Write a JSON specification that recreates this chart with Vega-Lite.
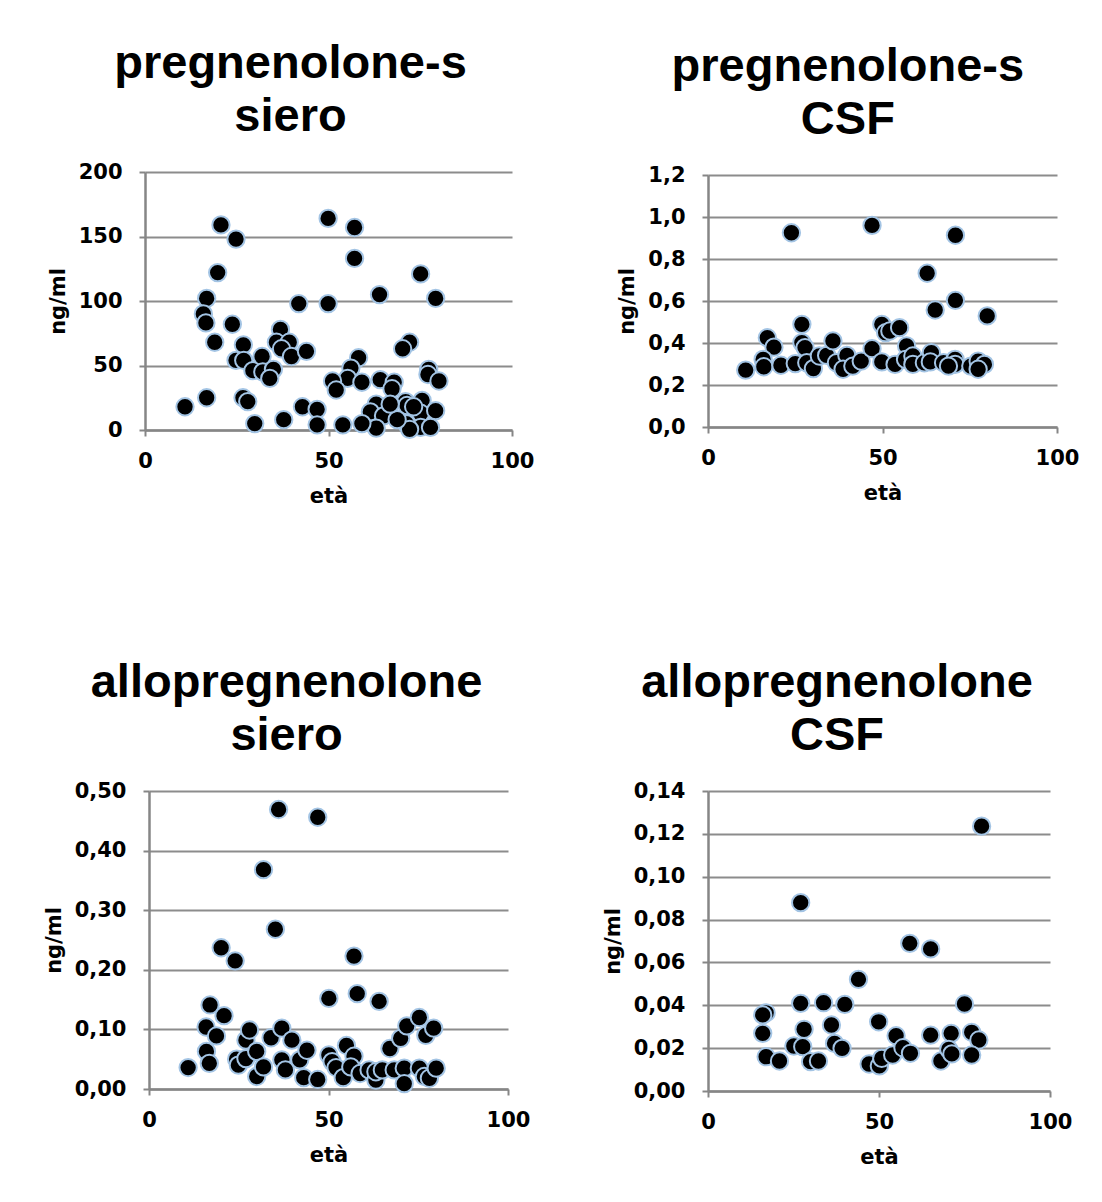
{
  "$schema": "https://vega.github.io/schema/vega-lite/v6.json",
  "autosize": {"type": "none"},
  "padding": {"left": 145, "top": 172, "right": 957, "bottom": 1030},
  "background": "white",
  "datasets": {
    "p1": [
      {"eta":10.9,"val":18},{"eta":16.8,"val":25},{"eta":20.7,"val":159},{"eta":24.8,"val":148},{"eta":19.8,"val":122},
      {"eta":16.8,"val":102},{"eta":15.9,"val":90},{"eta":16.6,"val":83},{"eta":19,"val":68},{"eta":23.8,"val":82},
      {"eta":26.8,"val":66},{"eta":24.8,"val":54},{"eta":26.9,"val":54},{"eta":29.4,"val":46},{"eta":31.9,"val":57},
      {"eta":32.1,"val":45},{"eta":35,"val":47},{"eta":34,"val":40},{"eta":36.9,"val":78},{"eta":35.8,"val":68},
      {"eta":39.3,"val":68},{"eta":37.2,"val":63},{"eta":39.9,"val":57},{"eta":44,"val":61},{"eta":41.9,"val":98},
      {"eta":26.7,"val":25},{"eta":28,"val":22},{"eta":29.9,"val":5},{"eta":37.8,"val":8},{"eta":42.9,"val":18},
      {"eta":46.9,"val":16},{"eta":46.9,"val":4},{"eta":49.9,"val":164},{"eta":57.1,"val":157},{"eta":57.1,"val":133},
      {"eta":49.9,"val":98},{"eta":63.9,"val":105},{"eta":75.1,"val":121},{"eta":79.2,"val":102},{"eta":72.1,"val":68},
      {"eta":70.2,"val":63},{"eta":58.2,"val":56},{"eta":56.1,"val":48},{"eta":55.2,"val":40},{"eta":51.1,"val":38},
      {"eta":52.1,"val":31},{"eta":59.1,"val":37},{"eta":64.1,"val":39},{"eta":67.9,"val":37},{"eta":67.3,"val":32},
      {"eta":77.3,"val":47},{"eta":77.1,"val":43},{"eta":80.1,"val":38},{"eta":63,"val":20},{"eta":61.4,"val":14},
      {"eta":65,"val":11},{"eta":71,"val":22},{"eta":71.4,"val":19},{"eta":75.5,"val":23},{"eta":75.1,"val":13},
      {"eta":79.2,"val":15},{"eta":71.2,"val":5},{"eta":75.1,"val":2},{"eta":77.8,"val":2},{"eta":72.1,"val":0.5},
      {"eta":63,"val":1.5},{"eta":59.1,"val":5},{"eta":53.9,"val":4},{"eta":68.7,"val":8},{"eta":66.8,"val":20},
      {"eta":73.2,"val":18}
    ],
    "p2": [
      {"eta":10.8,"val":0.271},{"eta":23.9,"val":0.925},{"eta":47,"val":0.96},{"eta":70.9,"val":0.913},{"eta":62.8,"val":0.732},
      {"eta":65.1,"val":0.557},{"eta":70.9,"val":0.603},{"eta":80,"val":0.529},{"eta":26.9,"val":0.489},{"eta":17,"val":0.425},
      {"eta":18.9,"val":0.38},{"eta":15.8,"val":0.322},{"eta":16,"val":0.287},{"eta":20.9,"val":0.294},{"eta":25,"val":0.302},
      {"eta":26.9,"val":0.402},{"eta":27.8,"val":0.378},{"eta":28.3,"val":0.306},{"eta":30.2,"val":0.278},{"eta":31.9,"val":0.338},
      {"eta":34,"val":0.341},{"eta":35.8,"val":0.41},{"eta":36.8,"val":0.306},{"eta":39.8,"val":0.341},{"eta":38.7,"val":0.275},
      {"eta":41.5,"val":0.29},{"eta":43.9,"val":0.314},{"eta":47,"val":0.373},{"eta":49.8,"val":0.489},{"eta":50.9,"val":0.449},
      {"eta":52.1,"val":0.457},{"eta":54.9,"val":0.473},{"eta":49.8,"val":0.31},{"eta":53.6,"val":0.298},{"eta":56.9,"val":0.386},
      {"eta":56.6,"val":0.322},{"eta":58.7,"val":0.338},{"eta":58.7,"val":0.298},{"eta":62,"val":0.306},{"eta":64,"val":0.354},
      {"eta":63.7,"val":0.31},{"eta":67.5,"val":0.306},{"eta":70.8,"val":0.322},{"eta":70.8,"val":0.298},{"eta":75.3,"val":0.29},
      {"eta":77.4,"val":0.314},{"eta":79.2,"val":0.298},{"eta":68.9,"val":0.29},{"eta":77.4,"val":0.275}
    ],
    "p3": [
      {"eta":10.9,"val":0.036},{"eta":16,"val":0.063},{"eta":16.8,"val":0.043},{"eta":15.9,"val":0.104},{"eta":17,"val":0.141},
      {"eta":18.8,"val":0.089},{"eta":20.9,"val":0.123},{"eta":20.1,"val":0.237},{"eta":24,"val":0.215},{"eta":24.4,"val":0.05},
      {"eta":24.9,"val":0.04},{"eta":27,"val":0.051},{"eta":27,"val":0.082},{"eta":28,"val":0.099},{"eta":30,"val":0.063},
      {"eta":30,"val":0.021},{"eta":31.9,"val":0.037},{"eta":31.9,"val":0.368},{"eta":36.1,"val":0.469},{"eta":35.2,"val":0.268},
      {"eta":34,"val":0.086},{"eta":37,"val":0.102},{"eta":37,"val":0.049},{"eta":38,"val":0.032},{"eta":39.8,"val":0.082},
      {"eta":42,"val":0.049},{"eta":44,"val":0.065},{"eta":43.1,"val":0.019},{"eta":47,"val":0.456},{"eta":47,"val":0.016},
      {"eta":50.1,"val":0.152},{"eta":50.1,"val":0.057},{"eta":51,"val":0.046},{"eta":52.1,"val":0.036},{"eta":54.1,"val":0.019},
      {"eta":55,"val":0.073},{"eta":57.1,"val":0.055},{"eta":56.2,"val":0.037},{"eta":57.1,"val":0.223},{"eta":58,"val":0.16},
      {"eta":58.8,"val":0.026},{"eta":61.3,"val":0.032},{"eta":63.2,"val":0.015},{"eta":63.2,"val":0.029},{"eta":64.1,"val":0.147},
      {"eta":65,"val":0.032},{"eta":67.1,"val":0.068},{"eta":68.3,"val":0.032},{"eta":70.1,"val":0.085},{"eta":71.8,"val":0.106},
      {"eta":71.1,"val":0.035},{"eta":71.1,"val":0.009},{"eta":75.3,"val":0.12},{"eta":77.1,"val":0.09},{"eta":79.3,"val":0.102},
      {"eta":75.3,"val":0.035},{"eta":76.7,"val":0.021},{"eta":78.1,"val":0.018},{"eta":80,"val":0.035}
    ],
    "p4": [
      {"eta":80,"val":0.1236},{"eta":27.1,"val":0.0879},{"eta":59,"val":0.0689},{"eta":65.1,"val":0.0663},{"eta":44,"val":0.0521},
      {"eta":27.1,"val":0.0409},{"eta":33.8,"val":0.0412},{"eta":40,"val":0.0404},{"eta":75,"val":0.0406},{"eta":17,"val":0.0365},
      {"eta":16,"val":0.0355},{"eta":16,"val":0.0269},{"eta":28.1,"val":0.0288},{"eta":36.1,"val":0.0308},{"eta":49.9,"val":0.0323},
      {"eta":55,"val":0.0258},{"eta":65.1,"val":0.0261},{"eta":71.1,"val":0.0269},{"eta":77.1,"val":0.0274},{"eta":79.2,"val":0.0238},
      {"eta":25.1,"val":0.021},{"eta":27.7,"val":0.0207},{"eta":37,"val":0.0222},{"eta":39.2,"val":0.0199},{"eta":17,"val":0.016},
      {"eta":20.9,"val":0.014},{"eta":30,"val":0.0137},{"eta":32.3,"val":0.014},{"eta":47.1,"val":0.0126},{"eta":50.1,"val":0.0117},
      {"eta":50.8,"val":0.0152},{"eta":54,"val":0.0168},{"eta":57,"val":0.0202},{"eta":59.2,"val":0.0176},{"eta":68.1,"val":0.014},
      {"eta":70.4,"val":0.0194},{"eta":71.3,"val":0.0173},{"eta":77.1,"val":0.0168}
    ]
  },
  "concat": [
    {
      "title": {"text": ["pregnenolone-s", "siero"]},
      "width": 367, "height": 258,
      "data": {"name": "p1"},
      "mark": {"type": "circle", "size": 300, "color": "black", "stroke": "#a3c4e4", "strokeWidth": 2, "opacity": 1},
      "encoding": {
        "x": {"field": "eta", "type": "quantitative", "title": "età", "scale": {"domain": [0, 100], "nice": false}, "axis": {"values": [0, 50, 100]}},
        "y": {"field": "val", "type": "quantitative", "title": "ng/ml", "scale": {"domain": [0, 200], "nice": false}, "axis": {"values": [0, 50, 100, 150, 200]}}
      }
    },
    {
      "title": {"text": ["pregnenolone-s", "CSF"]},
      "width": 349, "height": 252,
      "data": {"name": "p2"},
      "mark": {"type": "circle", "size": 300, "color": "black", "stroke": "#a3c4e4", "strokeWidth": 2, "opacity": 1},
      "encoding": {
        "x": {"field": "eta", "type": "quantitative", "title": "età", "scale": {"domain": [0, 100], "nice": false}, "axis": {"values": [0, 50, 100]}},
        "y": {"field": "val", "type": "quantitative", "title": "ng/ml", "scale": {"domain": [0, 1.2], "nice": false}, "axis": {"values": [0, 0.2, 0.4, 0.6, 0.8, 1.0, 1.2], "labelExpr": "replace(format(datum.value, '.1f'), '.', ',')"}}
      }
    },
    {
      "title": {"text": ["allopregnenolone", "siero"]},
      "width": 359, "height": 298,
      "data": {"name": "p3"},
      "mark": {"type": "circle", "size": 300, "color": "black", "stroke": "#a3c4e4", "strokeWidth": 2, "opacity": 1},
      "encoding": {
        "x": {"field": "eta", "type": "quantitative", "title": "età", "scale": {"domain": [0, 100], "nice": false}, "axis": {"values": [0, 50, 100]}},
        "y": {"field": "val", "type": "quantitative", "title": "ng/ml", "scale": {"domain": [0, 0.5], "nice": false}, "axis": {"values": [0, 0.1, 0.2, 0.3, 0.4, 0.5], "labelExpr": "replace(format(datum.value, '.2f'), '.', ',')"}}
      }
    },
    {
      "title": {"text": ["allopregnenolone", "CSF"]},
      "width": 342, "height": 300,
      "data": {"name": "p4"},
      "mark": {"type": "circle", "size": 300, "color": "black", "stroke": "#a3c4e4", "strokeWidth": 2, "opacity": 1},
      "encoding": {
        "x": {"field": "eta", "type": "quantitative", "title": "età", "scale": {"domain": [0, 100], "nice": false}, "axis": {"values": [0, 50, 100]}},
        "y": {"field": "val", "type": "quantitative", "title": "ng/ml", "scale": {"domain": [0, 0.14], "nice": false}, "axis": {"values": [0, 0.02, 0.04, 0.06, 0.08, 0.1, 0.12, 0.14], "labelExpr": "replace(format(datum.value, '.2f'), '.', ',')"}}
      }
    }
  ],
  "columns": 2,
  "spacing": {"row": 361, "column": 196},
  "bounds": "flush",
  "center": true,
  "config": {
    "view": {"stroke": null},
    "axis": {
      "labelFont": "DejaVu Sans", "labelFontWeight": "bold", "labelFontSize": 21, "labelColor": "black",
      "titleFont": "DejaVu Sans", "titleFontWeight": "bold", "titleFontSize": 21, "titleColor": "black",
      "domainColor": "#868686", "domainWidth": 2.5, "tickColor": "#868686", "tickWidth": 2, "tickSize": 6,
      "gridColor": "#8c8c8c", "gridWidth": 1.8, "labelPadding": 16, "labelFlush": false, "labelOverlap": false
    },
    "axisX": {"grid": false, "titlePadding": 14, "labelPadding": 14},
    "axisY": {"grid": true, "titlePadding": 10, "labelPadding": 17},
    "title": {"font": "Liberation Sans", "fontSize": 47, "fontWeight": "bold", "anchor": "middle", "frame": "bounds", "lineHeight": 53, "offset": 20, "color": "black"}
  }
}
